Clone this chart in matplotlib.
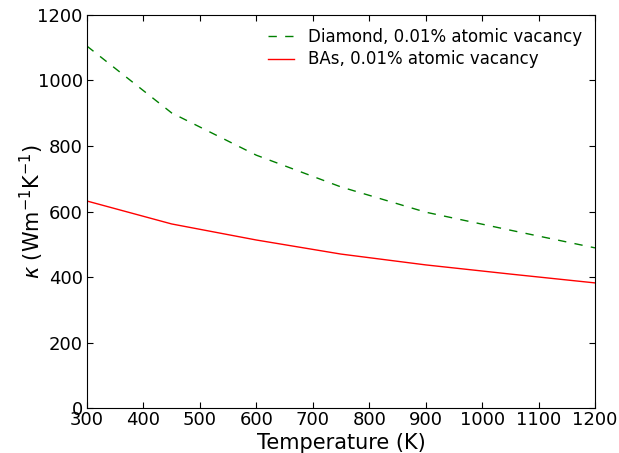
import numpy as np
import matplotlib
matplotlib.use("Agg")
import matplotlib.pyplot as plt

# --- data ---
temperature = [300, 450, 600, 750, 900, 1050, 1200]
kappa_diamond = [1105, 901, 772, 675, 598, 543, 489]
kappa_bas = [632, 562, 513, 470, 437, 409, 382]

plt.rcParams['font.family'] = ['DejaVu Sans']
plt.rcParams['mathtext.fontset'] = 'dejavusans'

fig = plt.figure(figsize=(6.19, 4.53), dpi=100)
ax = fig.add_axes([0.1405, 0.0993, 0.8207, 0.8676])

ax.plot(temperature, kappa_diamond, color='g', ls='--', dashes=(6, 6), lw=1.0,
        label='Diamond, 0.01% atomic vacancy')
ax.plot(temperature, kappa_bas, color='r', lw=1.0,
        label='BAs, 0.01% atomic vacancy')

ax.set_xlim(300, 1200)
ax.set_ylim(0, 1200)
ax.set_xticks(np.arange(300, 1201, 100))
ax.set_yticks(np.arange(0, 1201, 200))
ax.tick_params(direction='in', top=True, right=True, length=4, labelsize=13)
ax.tick_params(axis='x', pad=2)
ax.tick_params(axis='y', pad=3)

ax.set_xlabel('Temperature (K)', fontsize=15, labelpad=3)
ax.set_ylabel(r'$\kappa$ (Wm$^{-1}$K$^{-1}$)', fontsize=15, labelpad=-6)

ax.legend(loc='upper right', frameon=False, fontsize=12, handlelength=1.6,
          labelspacing=0.25, borderaxespad=0.4)

fig.savefig('out.png', dpi=100)
